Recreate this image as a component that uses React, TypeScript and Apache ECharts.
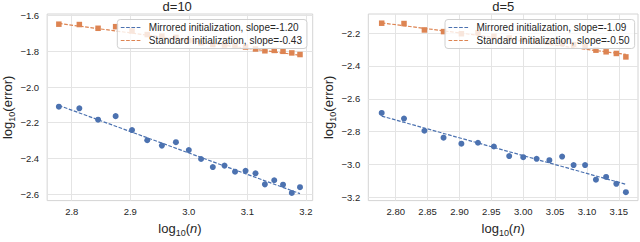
import React, { useEffect, useRef } from "react";
import * as echarts from "echarts";

// ---- data ----
const xLeft = [2.778, 2.813, 2.845, 2.875, 2.903, 2.929, 2.954, 2.978, 3.0, 3.021, 3.041, 3.061, 3.079, 3.097, 3.114, 3.13, 3.146, 3.161, 3.176, 3.19];
const mirroredLeft = [-2.11, -2.119, -2.183, -2.163, -2.241, -2.298, -2.328, -2.309, -2.353, -2.403, -2.448, -2.44, -2.474, -2.469, -2.483, -2.545, -2.522, -2.547, -2.593, -2.561];
const standardLeft = [-1.648, -1.65, -1.671, -1.662, -1.686, -1.706, -1.715, -1.722, -1.74, -1.752, -1.762, -1.765, -1.77, -1.776, -1.787, -1.797, -1.795, -1.8, -1.809, -1.818];

const xRight = [2.778, 2.813, 2.845, 2.875, 2.903, 2.929, 2.954, 2.978, 3.0, 3.021, 3.041, 3.061, 3.079, 3.097, 3.114, 3.13, 3.146, 3.161];
const mirroredRight = [-2.686, -2.72, -2.794, -2.836, -2.873, -2.867, -2.89, -2.948, -2.955, -2.965, -2.973, -2.951, -3.003, -3.003, -3.092, -3.075, -3.117, -3.168];
const standardRight = [-2.14, -2.142, -2.181, -2.191, -2.204, -2.198, -2.22, -2.23, -2.238, -2.245, -2.255, -2.262, -2.27, -2.281, -2.304, -2.314, -2.324, -2.345];

// fitted lines: endpoints
const fitXLeft = [2.778, 3.19];
const fitMirroredLeft = [-2.103, -2.597];
const fitStandardLeft = [-1.644, -1.822];
const fitXRight = [2.778, 3.161];
const fitMirroredRight = [-2.705, -3.12];
const fitStandardRight = [-2.138, -2.33];

const titles = ["d=10", "d=5"];
const legendLeft = ["Mirrored initialization, slope=-1.20", "Standard initialization, slope=-0.43"];
const legendRight = ["Mirrored initialization, slope=-1.09", "Standard initialization, slope=-0.50"];

const xTicksLeft = [2.8, 2.9, 3.0, 3.1, 3.2];
const xTicksRight = [2.8, 2.85, 2.9, 2.95, 3.0, 3.05, 3.1, 3.15];
const yTicksLeft = [-2.6, -2.4, -2.2, -2.0, -1.8, -1.6];
const yTicksRight = [-3.2, -3.0, -2.8, -2.6, -2.4, -2.2];

const BLUE = "#4C72B0";
const ORANGE = "#DD8452";
const FONT = "Liberation Sans, Arial, sans-serif";
const TXT = "#262626";

const zip = (xs: number[], ys: number[]) => xs.map((x, i) => [x, ys[i]]);
const fmt = (d: number) => (v: number) => (v < 0 ? "\u2212" : "") + Math.abs(v).toFixed(d);

const rich = {
  a: { fontSize: 13, fontFamily: FONT, color: TXT, lineHeight: 18, verticalAlign: "middle" },
  s: { fontSize: 9, fontFamily: FONT, color: TXT, lineHeight: 9, verticalAlign: "bottom" },
  i: { fontSize: 13, fontFamily: FONT, color: TXT, lineHeight: 18, verticalAlign: "middle", fontStyle: "italic" },
};

const grids = [
  { left: 41.7, top: 14, width: 271, height: 196 },
  { left: 368.3, top: 14, width: 269.7, height: 196 },
];

function xAxis(gi: number, min: number, max: number, ticks: number[], dec: number) {
  return {
    type: "value",
    gridIndex: gi,
    min,
    max,
    axisLine: { show: false },
    axisTick: { show: false, customValues: ticks },
    axisLabel: { customValues: ticks, formatter: fmt(dec), fontSize: 9.5, color: TXT, fontFamily: FONT, margin: 6 },
    splitLine: { show: true, lineStyle: { color: "#e4e4e4", width: 1 } },
    name: "{a|log}{s|10}{a|(}{i|n}{a|)}",
    nameLocation: "middle",
    nameGap: 15,
    nameTextStyle: { rich },
  };
}

function yAxis(gi: number, min: number, max: number, ticks: number[], gap: number) {
  return {
    type: "value",
    gridIndex: gi,
    min,
    max,
    axisLine: { show: false },
    axisTick: { show: false, customValues: ticks },
    axisLabel: { customValues: ticks, formatter: fmt(1), fontSize: 9.5, color: TXT, fontFamily: FONT, margin: 8 },
    splitLine: { show: true, lineStyle: { color: "#e4e4e4", width: 1 } },
    name: "{a|log}{s|10}{a|(error)}",
    nameLocation: "middle",
    nameRotate: 90,
    nameGap: gap,
    nameTextStyle: { rich },
  };
}

const dash = [3.7, 1.6];

function legend(left: number, names: string[]) {
  return {
    left,
    top: 19.5,
    orient: "vertical",
    data: names,
    itemWidth: 21,
    itemHeight: 10,
    itemGap: 3,
    padding: [3, 5, 3, 3],
    backgroundColor: "rgba(255,255,255,0.8)",
    borderColor: "#d0d0d0",
    borderWidth: 1,
    borderRadius: 3,
    selectedMode: false,
    itemStyle: { opacity: 0 },
    lineStyle: { width: 1, type: dash },
    textStyle: { fontSize: 10, color: TXT, fontFamily: FONT, padding: [0, 0, 0, 2] },
  };
}

function fitSeries(name: string, gi: number, xs: number[], ys: number[], color: string) {
  return {
    type: "line",
    name,
    xAxisIndex: gi,
    yAxisIndex: gi,
    data: zip(xs, ys),
    symbol: "none",
    lineStyle: { color, width: 1.2, type: dash },
    itemStyle: { color },
    z: 3,
  };
}

function scatterSeries(gi: number, xs: number[], ys: number[], color: string, symbol: string, size: number) {
  return {
    type: "scatter",
    xAxisIndex: gi,
    yAxisIndex: gi,
    data: zip(xs, ys),
    symbol,
    symbolSize: size,
    itemStyle: { color, opacity: 1 },
    z: 2,
  };
}

export default function App() {
  const ref = useRef<HTMLDivElement>(null);
  useEffect(() => {
    if (!ref.current) return;
    const chart = echarts.init(ref.current, undefined, { renderer: "svg" });
    const option: any = {
      animation: false,
      backgroundColor: "#ffffff",
      textStyle: { fontFamily: FONT },
      title: [
        { text: titles[0], left: 177.2, top: 0, textAlign: "center", padding: 0, textStyle: { fontSize: 13, lineHeight: 13, fontWeight: "normal", color: TXT, fontFamily: FONT } },
        { text: titles[1], left: 503.2, top: 0, textAlign: "center", padding: 0, textStyle: { fontSize: 13, lineHeight: 13, fontWeight: "normal", color: TXT, fontFamily: FONT } },
      ],
      grid: grids.map((g) => ({ ...g, show: true, borderColor: "#d4d4d4", borderWidth: 1, backgroundColor: "transparent" })),
      xAxis: [xAxis(0, 2.758, 3.2117, xTicksLeft, 1), xAxis(1, 2.757, 3.18, xTicksRight, 2)],
      yAxis: [yAxis(0, -2.636, -1.591, yTicksLeft, 26), yAxis(1, -3.219, -2.084, yTicksRight, 29)],
      legend: [legend(117.3, legendLeft), legend(445, legendRight)],
      series: [
        scatterSeries(0, xLeft, mirroredLeft, BLUE, "circle", 6),
        scatterSeries(0, xLeft, standardLeft, ORANGE, "rect", 5.5),
        fitSeries(legendLeft[0], 0, fitXLeft, fitMirroredLeft, BLUE),
        fitSeries(legendLeft[1], 0, fitXLeft, fitStandardLeft, ORANGE),
        scatterSeries(1, xRight, mirroredRight, BLUE, "circle", 6),
        scatterSeries(1, xRight, standardRight, ORANGE, "rect", 5.5),
        fitSeries(legendRight[0], 1, fitXRight, fitMirroredRight, BLUE),
        fitSeries(legendRight[1], 1, fitXRight, fitStandardRight, ORANGE),
      ],
    };
    chart.setOption(option);
    return () => chart.dispose();
  }, []);
  return (
    <div style={{ position: "fixed", left: 0, top: 0, width: 640, height: 242, background: "#fff" }}>
      <div ref={ref} style={{ width: 640, height: 242 }} />
    </div>
  );
}
